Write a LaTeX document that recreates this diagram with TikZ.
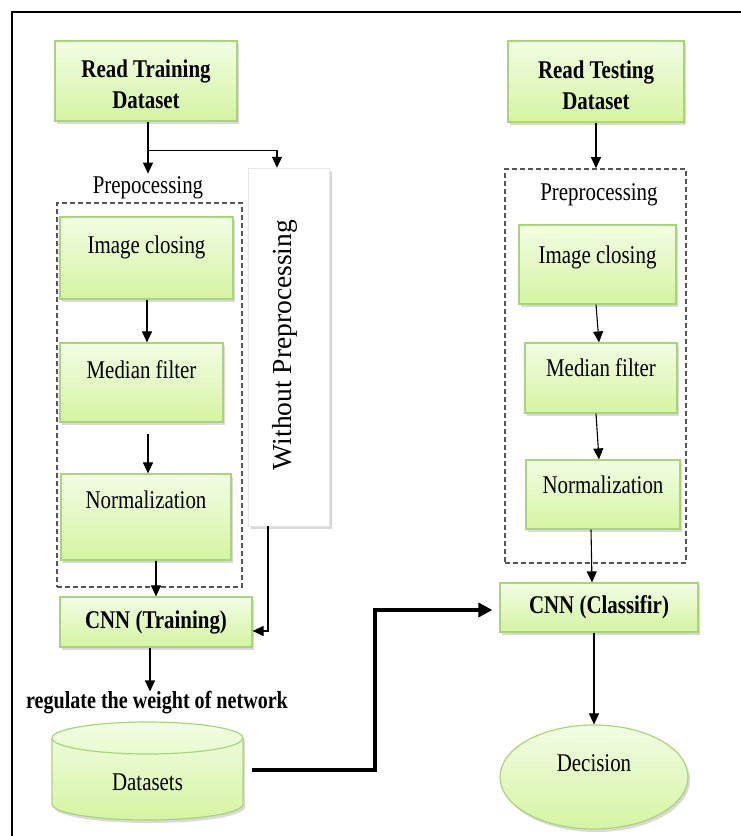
\documentclass[tikz,border=0pt]{standalone}
\usepackage{fontspec}
\usepackage{graphicx}
\setmainfont{Liberation Serif}
\usetikzlibrary{arrows.meta,shadows,calc,shapes.geometric}

\definecolor{boxtop}{HTML}{F2FDE4}
\definecolor{boxbot}{HTML}{D5F4A2}
\definecolor{boxedge}{HTML}{A9D47C}
\definecolor{dashgray}{HTML}{555555}

% condensed setting of the serif face
\newcommand\squeezed[1]{\scalebox{0.82}[1]{#1}}
\newcommand\twolines[2]{\squeezed{\begin{tabular}{@{}c@{}}#1\\#2\end{tabular}}}

\tikzset{
  softshadow/.style={drop shadow={shadow xshift=2pt, shadow yshift=-3pt, opacity=0.3}},
  greenbox/.style={rectangle, draw=boxedge, line width=1.2pt, top color=boxtop,
    bottom color=boxbot, softshadow, inner sep=0pt,
    font=\fontsize{25.5}{30}\selectfont},
  boldbox/.style={greenbox, font=\fontsize{25.5}{31}\selectfont\bfseries},
  raised/.style={text height=17pt, text depth=#1},
  grp/.style={draw=dashgray, dash pattern=on 5pt off 3pt, line width=1.6pt, inner sep=0pt},
  arr/.style={-{Triangle[length=11pt,width=10pt]}, line width=1.1pt},
  fatarr/.style={-{Triangle[length=14pt,width=14pt]}, line width=4pt},
  lbl/.style={inner sep=0pt, font=\fontsize{25.5}{30}\selectfont},
}

\begin{document}
\begin{tikzpicture}[x=1pt,y=-1pt]
\useasboundingbox (0,0) rectangle (741,836);

% outer frame
\draw[line width=2.5pt] (741,12) -- (12,12) -- (12,836);

% dashed preprocessing groups
\node[grp, minimum width=185pt, minimum height=384pt] (grpL) at (149.5,395) {};
\node[grp, minimum width=181pt, minimum height=394pt] (grpR) at (595.5,366) {};

% inputs
\node[boldbox, text height=40pt, text depth=15pt, minimum width=182pt, minimum height=80pt] (rtrain) at (146,81) {\twolines{Read Training}{Dataset}};
\node[boldbox, text height=40pt, text depth=15pt, minimum width=176pt, minimum height=81pt] (rtest) at (596,81.5) {\twolines{Read Testing}{Dataset}};

\node[lbl] (prepL) at (148,188) {\squeezed{Prepocessing}};
\node[lbl] (prepR) at (599,195) {\squeezed{Preprocessing}};

% bypass branch
\node[draw=gray!20, fill=white, softshadow, minimum width=81pt, minimum height=358pt, inner sep=0pt] (wo) at (289,347) {};
\node[rotate=90, inner sep=0pt, font=\fontsize{27.5}{30}\selectfont] (woText) at (285,345) {Without Preprocessing};

% training preprocessing steps
\node[greenbox, raised=27pt, minimum width=173pt, minimum height=82pt] (icL) at (146.5,258) {\squeezed{Image closing}};
\node[greenbox, raised=26pt, minimum width=163pt, minimum height=79pt] (mfL) at (141.5,382.5) {\squeezed{Median filter}};
\node[greenbox, raised=35pt, minimum width=170pt, minimum height=86pt] (nmL) at (146,517) {\squeezed{Normalization}};

% testing preprocessing steps
\node[greenbox, raised=20pt, minimum width=157pt, minimum height=79pt] (icR) at (597.5,264.5) {\squeezed{Image closing}};
\node[greenbox, raised=21pt, minimum width=152pt, minimum height=70pt] (mfR) at (601,378) {\squeezed{Median filter}};
\node[greenbox, raised=20pt, minimum width=154pt, minimum height=69pt] (nmR) at (603,494.5) {\squeezed{Normalization}};

% networks
\node[boldbox, minimum width=192pt, minimum height=50pt] (cnnT) at (156,622) {\squeezed{CNN (Training)}};
\node[boldbox, minimum width=198pt, minimum height=49pt] (cnnC) at (599,607.5) {\squeezed{CNN (Classifir)}};

\node[inner sep=0pt, font=\fontsize{24.5}{29}\selectfont\bfseries] (reg) at (157,703) {\squeezed{regulate the weight of network}};

% stored datasets (cylinder)
\path[draw=boxedge, line width=1.2pt, top color=boxtop, bottom color=boxbot, softshadow]
  (52,738) -- (52,804) arc[start angle=180, end angle=360, x radius=95.5pt, y radius=16pt]
  -- (243,738) arc[start angle=0, end angle=180, x radius=95.5pt, y radius=16pt] -- cycle;
\draw[boxedge, line width=1.2pt] (52,738) arc[start angle=180, end angle=360, x radius=95.5pt, y radius=16pt];
\node[inner sep=0pt, minimum width=191pt, minimum height=98pt] (ds) at (147.5,771) {};
\node[lbl] (dsText) at (147.5,782) {\squeezed{Datasets}};

% decision
\node[ellipse, draw=boxedge, line width=1.2pt, top color=boxtop, bottom color=boxbot, softshadow,
  inner sep=0pt, raised=29pt, minimum width=188pt, minimum height=104pt,
  font=\fontsize{25.5}{30}\selectfont] (dec) at (594,777) {\squeezed{Decision}};

% connectors, training side
\draw[arr, shorten >=3pt] ([xshift=2pt]rtrain.south) -- ([xshift=2pt]rtrain.south |- prepL.north);
\draw[arr] ($(rtrain.south)+(2,29)$) -| ([xshift=-12pt]wo.north);
\draw[arr] ([xshift=0.5pt]icL.south) -- ([xshift=0.5pt]icL.south |- mfL.north);
\draw[arr] ([shift={(6.5pt,-11pt)}]mfL.south) -- ([xshift=6.5pt]mfL.south |- nmL.north);
\draw[arr] (nmL.south -| cnnT.north) -- (cnnT.north);
\draw[arr] ([xshift=-21pt]wo.south) |- ([yshift=-9pt]cnnT.east);
\draw[arr] ([xshift=-6pt]cnnT.south) -- ([xshift=-6pt]cnnT.south |- reg.north);

% connectors, testing side
\draw[arr] (rtest.south) -- (rtest.south |- grpR.north);
\draw[arr] ([xshift=-1.5pt]icR.south) -- ([xshift=-2pt]mfR.north);
\draw[arr] ([xshift=-5pt]mfR.south) -- ([xshift=-4pt]nmR.north);
\draw[arr] ([xshift=-12pt]nmR.south) -- ([xshift=-7pt]cnnC.north);
\draw[arr] ([xshift=-5pt]cnnC.south) -- (dec.north);

% trained weights feed the classifier
\draw[fatarr, shorten >=7pt] ([xshift=9pt,yshift=1pt]ds.east) -- ++(123,0) |- ([yshift=-2.5pt]cnnC.west);
\end{tikzpicture}
\end{document}
